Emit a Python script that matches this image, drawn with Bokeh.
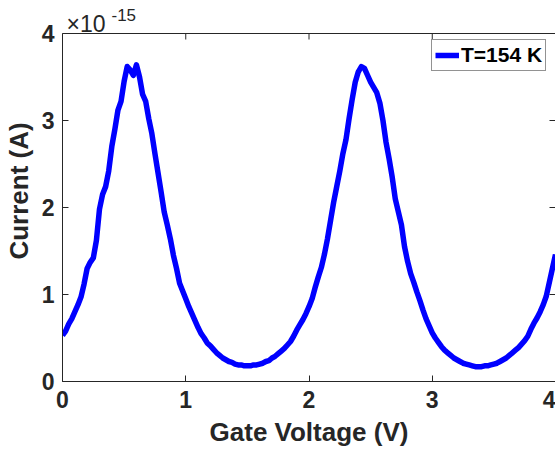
from bokeh.plotting import figure
from bokeh.models import Range1d, LinearAxis, FixedTicker, Label, Legend, LegendItem, Span
from bokeh.embed import file_html
from bokeh.resources import INLINE

# Gate voltage (V)
gate_voltage = [
    0.000, 0.025, 0.050, 0.075, 0.100, 0.125, 0.150, 0.175, 0.200, 0.225,
    0.250, 0.275, 0.300, 0.325, 0.350, 0.375, 0.400, 0.425, 0.450, 0.475,
    0.500, 0.525, 0.550, 0.575, 0.600, 0.625, 0.650, 0.675, 0.700, 0.725,
    0.750, 0.775, 0.800, 0.825, 0.850, 0.875, 0.900, 0.925, 0.950, 0.975,
    1.000, 1.025, 1.050, 1.075, 1.100, 1.125, 1.150, 1.175, 1.200, 1.225,
    1.250, 1.275, 1.300, 1.325, 1.350, 1.375, 1.400, 1.425, 1.450, 1.475,
    1.500, 1.525, 1.550, 1.575, 1.600, 1.625, 1.650, 1.675, 1.700, 1.725,
    1.750, 1.775, 1.800, 1.825, 1.850, 1.875, 1.900, 1.925, 1.950, 1.975,
    2.000, 2.025, 2.050, 2.075, 2.100, 2.125, 2.150, 2.175, 2.200, 2.225,
    2.250, 2.275, 2.300, 2.325, 2.350, 2.375, 2.400, 2.425, 2.450, 2.475,
    2.500, 2.525, 2.550, 2.575, 2.600, 2.625, 2.650, 2.675, 2.700, 2.725,
    2.750, 2.775, 2.800, 2.825, 2.850, 2.875, 2.900, 2.925, 2.950, 2.975,
    3.000, 3.025, 3.050, 3.075, 3.100, 3.125, 3.150, 3.175, 3.200, 3.225,
    3.250, 3.275, 3.300, 3.325, 3.350, 3.375, 3.400, 3.425, 3.450, 3.475,
    3.500, 3.525, 3.550, 3.575, 3.600, 3.625, 3.650, 3.675, 3.700, 3.725,
    3.750, 3.775, 3.800, 3.825, 3.850, 3.875, 3.900, 3.925, 3.950, 3.975,
    4.000,
]

# Current in units of 1e-15 A
current_e15 = [
    0.53, 0.58, 0.66, 0.72, 0.80, 0.88, 0.97, 1.12, 1.30, 1.37,
    1.42, 1.62, 1.98, 2.15, 2.24, 2.42, 2.70, 2.90, 3.12, 3.22,
    3.45, 3.62, 3.58, 3.52, 3.64, 3.50, 3.30, 3.22, 3.02, 2.85,
    2.62, 2.40, 2.18, 1.95, 1.80, 1.64, 1.45, 1.30, 1.13, 1.04,
    0.95, 0.86, 0.78, 0.70, 0.62, 0.55, 0.50, 0.44, 0.41, 0.37,
    0.33, 0.30, 0.27, 0.25, 0.23, 0.22, 0.20, 0.19, 0.19, 0.18,
    0.18, 0.18, 0.19, 0.19, 0.20, 0.21, 0.23, 0.24, 0.27, 0.29,
    0.32, 0.35, 0.38, 0.42, 0.46, 0.52, 0.59, 0.65, 0.71, 0.78,
    0.86, 0.95, 1.08, 1.20, 1.31, 1.46, 1.64, 1.85, 2.06, 2.24,
    2.42, 2.62, 2.78, 3.02, 3.24, 3.44, 3.56, 3.62, 3.60, 3.52,
    3.44, 3.38, 3.32, 3.20, 3.00, 2.75, 2.56, 2.35, 2.10, 1.95,
    1.80, 1.55, 1.38, 1.24, 1.14, 1.03, 0.93, 0.82, 0.72, 0.64,
    0.56, 0.50, 0.45, 0.40, 0.36, 0.33, 0.30, 0.27, 0.25, 0.23,
    0.21, 0.20, 0.19, 0.18, 0.17, 0.17, 0.17, 0.18, 0.18, 0.19,
    0.20, 0.21, 0.23, 0.25, 0.27, 0.30, 0.33, 0.36, 0.39, 0.43,
    0.47, 0.52, 0.60, 0.67, 0.73, 0.80, 0.88, 0.98, 1.14, 1.30,
    1.46,
]

x_ticks = [0, 1, 2, 3, 4]
y_ticks = [0, 1, 2, 3, 4]
x_lim = (0, 4)
y_lim = (0, 4)
series_label = "T=154 K"
x_label = "Gate Voltage (V)"
y_label = "Current (A)"
exp_base = "×10"
exp_power = "-15"

AX = "#262626"
FONT = "Liberation Sans"

W, H = 555, 454
B_LEFT, B_RIGHT, B_BOTTOM = 61, 0, 73
TOP_GAP = 33  # pixels between the canvas top and the axes box top
frame_h = H - B_BOTTOM
box_h = frame_h - TOP_GAP
# extend the frame upward so the exponent text (inside the frame) is not clipped
y_top = y_lim[1] * frame_h / box_h
px_per_unit = box_h / (y_lim[1] - y_lim[0])

p = figure(width=W, height=H, output_backend="svg", toolbar_location=None,
           title_location=None,
           x_range=Range1d(*x_lim), y_range=Range1d(y_lim[0], y_top),
           x_axis_label=x_label, y_axis_label=y_label,
           min_border_left=B_LEFT, min_border_right=B_RIGHT,
           min_border_top=0, min_border_bottom=B_BOTTOM)
p.grid.visible = False
p.outline_line_color = None
p.background_fill_color = "white"
p.border_fill_color = "white"

r = p.line(gate_voltage, current_e15, line_color="#0000ff", line_width=5.5,
           line_join="round")


def style_axis(ax, ticks, show_labels=True):
    ax.ticker = FixedTicker(ticks=ticks)
    ax.major_tick_in = 6
    ax.major_tick_out = 0
    ax.minor_tick_line_color = None
    ax.axis_line_color = AX
    ax.axis_line_width = 1
    ax.major_tick_line_color = AX
    ax.major_label_text_font = FONT
    ax.major_label_text_font_style = "bold"
    if show_labels:
        ax.major_label_text_color = AX
        ax.major_label_text_font_size = "23px"
    else:
        ax.major_label_text_color = None
        ax.major_label_text_font_size = "1px"
        ax.major_label_standoff = 0
    ax.axis_label_text_font = FONT
    ax.axis_label_text_font_style = "bold"
    ax.axis_label_text_font_size = "26px"
    ax.axis_label_text_color = AX


style_axis(p.xaxis[0], x_ticks)
style_axis(p.yaxis[0], y_ticks)
p.yaxis[0].bounds = y_lim
p.xaxis[0].major_label_standoff = 9
p.xaxis[0].axis_label_standoff = 6
p.yaxis[0].major_label_standoff = 8
p.yaxis[0].axis_label_standoff = 5

right_ax = LinearAxis(bounds=y_lim)
style_axis(right_ax, y_ticks, show_labels=False)
p.add_layout(right_ax, "right")

# top edge of the axes box with inward ticks
p.add_layout(Span(location=y_lim[1], dimension="width", line_color=AX, line_width=1))
tick_len = 6 / px_per_unit
p.segment(x0=x_ticks, y0=[y_lim[1]] * len(x_ticks), x1=x_ticks,
          y1=[y_lim[1] - tick_len] * len(x_ticks), line_color=AX, line_width=1)

legend = Legend(items=[LegendItem(label=series_label, renderers=[r])],
                location=(369, frame_h - 71), margin=0, padding=3, spacing=0,
                glyph_width=24, glyph_height=22, label_standoff=2,
                label_text_font=FONT, label_text_font_style="bold",
                label_text_font_size="21px", label_text_color="black",
                border_line_color=AX, border_line_width=1,
                background_fill_color="white", background_fill_alpha=1)
p.add_layout(legend)

p.add_layout(Label(x=x_lim[0], y=y_lim[1], x_offset=4, y_offset=10, text=exp_base,
                   text_font=FONT, text_font_size="23px", text_color=AX,
                   text_baseline="alphabetic"))
p.add_layout(Label(x=x_lim[0], y=y_lim[1], x_offset=49, y_offset=19, text=exp_power,
                   text_font=FONT, text_font_size="17px", text_color=AX,
                   text_baseline="alphabetic"))

open("out.html", "w").write(file_html(p, INLINE))
